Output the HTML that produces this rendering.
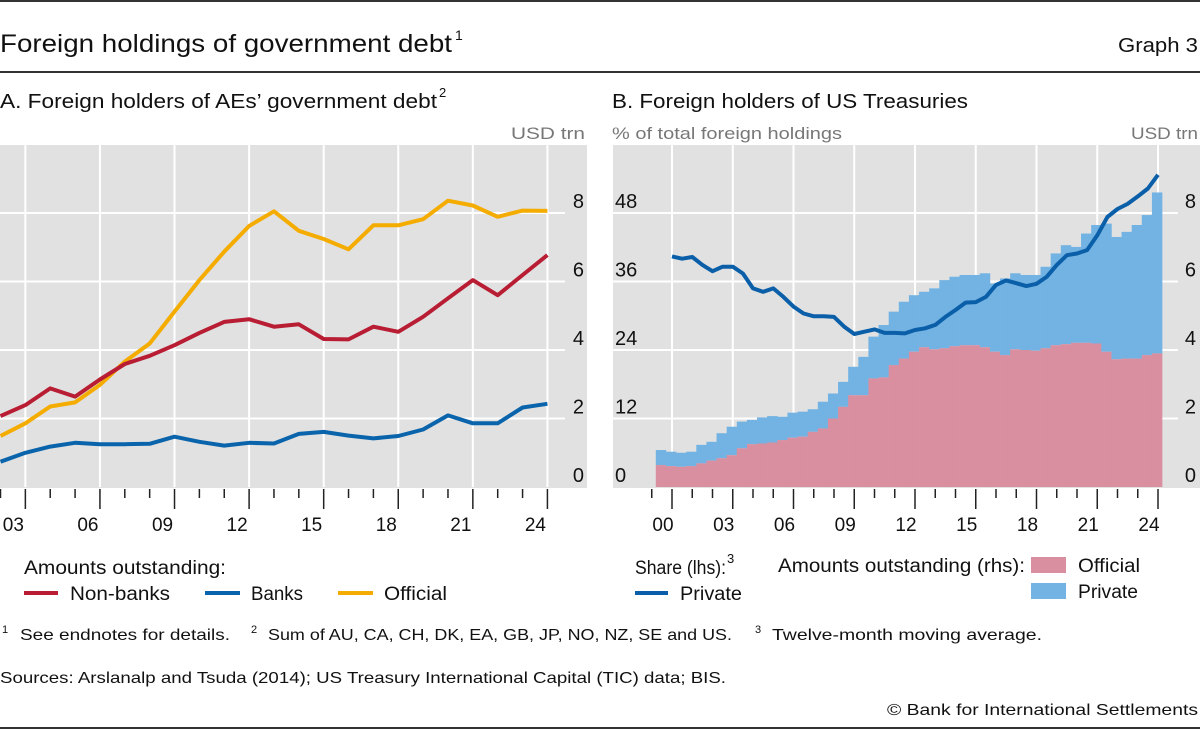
<!DOCTYPE html>
<html><head><meta charset="utf-8"><style>
html,body{margin:0;padding:0;background:#fff;}
svg{display:block;font-family:"Liberation Sans",sans-serif;}
</style></head><body>
<svg id="chart" width="1200" height="730" viewBox="0 0 1200 730" xmlns="http://www.w3.org/2000/svg">
<line x1="0" y1="1" x2="1200" y2="1" stroke="#333" stroke-width="2"/>
<text x="0" y="52" font-size="25" fill="#111" textLength="452" lengthAdjust="spacingAndGlyphs">Foreign holdings of government debt</text>
<text x="455" y="40" font-size="14" fill="#111">1</text>
<text x="1198" y="52" font-size="20" fill="#111" text-anchor="end" textLength="80" lengthAdjust="spacingAndGlyphs">Graph 3</text>
<line x1="0" y1="72" x2="1200" y2="72" stroke="#333" stroke-width="2"/>
<text x="0" y="108" font-size="20" fill="#111" textLength="437" lengthAdjust="spacingAndGlyphs">A. Foreign holders of AEs’ government debt</text>
<text x="439" y="97" font-size="13" fill="#111">2</text>
<text x="612" y="108" font-size="20" fill="#111" textLength="356" lengthAdjust="spacingAndGlyphs">B. Foreign holders of US Treasuries</text>
<text x="585" y="139" font-size="17" fill="#777" text-anchor="end" textLength="74" lengthAdjust="spacingAndGlyphs">USD trn</text>
<text x="612" y="139" font-size="17" fill="#777" textLength="230" lengthAdjust="spacingAndGlyphs">% of total foreign holdings</text>
<text x="1198" y="139" font-size="17" fill="#777" text-anchor="end" textLength="67" lengthAdjust="spacingAndGlyphs">USD trn</text>
<rect x="0" y="145" width="587" height="343" fill="#e1e1e1"/>
<rect x="613" y="145" width="587" height="343" fill="#e1e1e1"/>
<g id="ga"></g>
<g id="gb"></g>
<!-- legend A -->
<text x="24" y="574" font-size="19" fill="#111" textLength="202" lengthAdjust="spacingAndGlyphs">Amounts outstanding:</text>
<g>
<line x1="24" y1="593" x2="58" y2="593" stroke="#b81d33" stroke-width="4"/>
<text x="70" y="600" font-size="19" fill="#111" textLength="100" lengthAdjust="spacingAndGlyphs">Non-banks</text></g>
<g>
<line x1="205" y1="593" x2="240" y2="593" stroke="#0a64ac" stroke-width="4"/>
<text x="251" y="600" font-size="19" fill="#111" textLength="52" lengthAdjust="spacingAndGlyphs">Banks</text></g>
<g>
<line x1="338" y1="593" x2="373" y2="593" stroke="#f5ac00" stroke-width="4"/>
<text x="384" y="600" font-size="19" fill="#111" textLength="63" lengthAdjust="spacingAndGlyphs">Official</text></g>
<!-- legend B -->
<text x="635" y="574" font-size="19" fill="#111" textLength="91" lengthAdjust="spacingAndGlyphs">Share (lhs):</text>
<text x="727" y="563" font-size="13" fill="#111">3</text>
<g>
<line x1="635" y1="593" x2="668" y2="593" stroke="#0a5fa8" stroke-width="4"/>
<text x="680" y="600" font-size="19" fill="#111" textLength="62" lengthAdjust="spacingAndGlyphs">Private</text></g>
<text x="778" y="572" font-size="19" fill="#111" textLength="247" lengthAdjust="spacingAndGlyphs">Amounts outstanding (rhs):</text>
<g>
<rect x="1031" y="557" width="35" height="16" fill="#d98fa0"/>
<text x="1078" y="572" font-size="19" fill="#111" textLength="62" lengthAdjust="spacingAndGlyphs">Official</text></g>
<g>
<rect x="1031" y="583" width="35" height="16" fill="#72b3e3"/>
<text x="1078" y="598" font-size="19" fill="#111" textLength="60" lengthAdjust="spacingAndGlyphs">Private</text></g>
<!-- footnotes -->
<g font-size="16" fill="#111">
<text x="2" y="633" font-size="11">1</text>
<text x="20" y="640" textLength="210" lengthAdjust="spacingAndGlyphs">See endnotes for details.</text>
<text x="251" y="633" font-size="11">2</text>
<text x="268" y="640" textLength="464" lengthAdjust="spacingAndGlyphs">Sum of AU, CA, CH, DK, EA, GB, JP, NO, NZ, SE and US.</text>
<text x="755" y="633" font-size="11">3</text>
<text x="772" y="640" textLength="270" lengthAdjust="spacingAndGlyphs">Twelve-month moving average.</text>
</g>
<text x="0" y="683" font-size="16" fill="#111" textLength="726" lengthAdjust="spacingAndGlyphs">Sources: Arslanalp and Tsuda (2014); US Treasury International Capital (TIC) data; BIS.</text>
<text x="1198" y="715" font-size="16" fill="#111" text-anchor="end" textLength="311" lengthAdjust="spacingAndGlyphs">© Bank for International Settlements</text>
<line x1="0" y1="728" x2="1200" y2="728" stroke="#333" stroke-width="2"/>
</svg>
<script>
// Panel A data (annual, 2002-2024), USD trn
const yearsA = [2002,2003,2004,2005,2006,2007,2008,2009,2010,2011,2012,2013,2014,2015,2016,2017,2018,2019,2020,2021,2022,2023,2024];
const nonBanks = [2.07,2.39,2.88,2.64,3.14,3.59,3.83,4.14,4.50,4.82,4.90,4.68,4.75,4.32,4.31,4.68,4.53,4.97,5.51,6.04,5.60,6.19,6.77];
const banks = [0.74,1.00,1.18,1.29,1.25,1.25,1.26,1.47,1.32,1.21,1.29,1.27,1.55,1.61,1.50,1.42,1.49,1.68,2.09,1.86,1.86,2.32,2.43];
const officialA = [1.49,1.86,2.35,2.47,2.98,3.66,4.19,5.12,6.04,6.87,7.62,8.05,7.48,7.24,6.94,7.64,7.64,7.82,8.36,8.22,7.89,8.07,8.06];
const ticksA = [0,2,4,6,8];
const yearLabelsA = ['03','06','09','12','15','18','21','24'];
// Panel B data (half-yearly)
const officialB = [0.64,0.61,0.59,0.61,0.69,0.77,0.84,0.93,1.13,1.25,1.27,1.30,1.37,1.44,1.47,1.61,1.71,2.00,2.34,2.68,2.68,3.17,3.20,3.56,3.75,3.95,4.08,4.02,4.05,4.11,4.14,4.14,4.08,3.95,3.85,4.02,4.00,3.98,4.05,4.14,4.17,4.21,4.21,4.19,3.95,3.73,3.75,3.75,3.85,3.90];
const totalB = [1.08,1.03,1.00,1.03,1.23,1.32,1.57,1.76,1.91,1.96,2.03,2.07,2.05,2.17,2.20,2.27,2.49,2.73,3.07,3.51,3.80,4.39,4.73,5.12,5.41,5.60,5.70,5.80,6.04,6.14,6.19,6.19,6.24,5.94,6.09,6.24,6.19,6.19,6.43,6.82,7.06,7.01,7.40,7.65,7.69,7.30,7.45,7.65,7.94,8.60];
const privateShare = [40.4,40.0,40.3,38.9,37.8,38.6,38.6,37.4,34.8,34.2,34.8,33.3,31.6,30.4,29.9,29.9,29.8,28.1,26.8,27.2,27.6,27.0,27.0,26.9,27.5,27.8,28.4,29.8,31.0,32.3,32.4,33.3,35.4,36.2,35.7,35.2,35.6,36.8,38.9,40.6,40.9,41.5,44.1,47.3,48.7,49.6,50.9,52.3,54.7];
const ticksLhs = [0,12,24,36,48];
const ticksRhs = [0,2,4,6,8];
const yearLabelsB = ['00','03','06','09','12','15','18','21','24'];

const NS='http://www.w3.org/2000/svg';
function mk(tag, attrs, parent){const e=document.createElementNS(NS,tag);for(const k in attrs)e.setAttribute(k,attrs[k]);parent.appendChild(e);return e;}
const ga=document.getElementById('ga'), gb=document.getElementById('gb');
const BOT=487;
// Panel A axes
const xA = yr => 0.5 + (yr-2002)*24.86;
const yA = v => BOT - v*34.25;
ticksA.forEach(v=>{ if(v>0){const l=mk('line',{x1:0,x2:565,y1:yA(v),y2:yA(v),stroke:'#fff','stroke-width':2},ga);

}
const t=mk('text',{x:584,y:yA(v)-5,'font-size':20,fill:'#111','text-anchor':'end'},ga);t.textContent=String(v);

});
for(let yr=2002; yr<=2024; yr++){
  const major=(yr-2003)%3===0;
  if(major){const g=mk('line',{x1:xA(yr),x2:xA(yr),y1:145,y2:BOT,stroke:'#fff','stroke-width':2},ga);
  
  }
  const tk=mk('line',{x1:xA(yr),x2:xA(yr),y1:489,y2:major?509:498,stroke:'#222','stroke-width':1.5},ga);
  
  
}
yearLabelsA.forEach((lab,i)=>{const yr=2003+i*3;const t=mk('text',{x:xA(yr)-12,y:531,'font-size':19,fill:'#111','text-anchor':'middle'},ga);t.textContent=lab;

});
function lineA(vals,color,name){const d=vals.map((v,i)=>(i?'L':'M')+xA(yearsA[i]).toFixed(1)+','+yA(v).toFixed(1)).join('');
const p=mk('path',{d:d,fill:'none',stroke:color,'stroke-width':4,'stroke-linejoin':'round'},ga);

}
lineA(officialA,'#f5ac00','official-line');
lineA(nonBanks,'#b81d33','non-banks-line');
lineA(banks,'#0a64ac','banks-line');
// Panel B axes
const xB = t => 672 + (t-2000)*20.25;
const yR = v => BOT - v*34.25;
const yL = v => BOT - v*(274/48);
ticksLhs.forEach((v,i)=>{ if(v>0){const l=mk('line',{x1:613,x2:1178,y1:yL(v),y2:yL(v),stroke:'#fff','stroke-width':2},gb);

}
const t=mk('text',{x:615,y:yL(v)-5,'font-size':20,fill:'#111'},gb);t.textContent=String(v);


const r=mk('text',{x:1196,y:yR(ticksRhs[i])-5,'font-size':20,fill:'#111','text-anchor':'end'},gb);r.textContent=String(ticksRhs[i]);

});
for(let yr=1999; yr<=2024; yr++){
  const major=(yr-2000)%3===0;
  if(major){const g=mk('line',{x1:xB(yr),x2:xB(yr),y1:145,y2:BOT,stroke:'#fff','stroke-width':2},gb);
  
  }
  const tk=mk('line',{x1:xB(yr),x2:xB(yr),y1:489,y2:major?509:498,stroke:'#222','stroke-width':1.5},gb);
  
  
}
yearLabelsB.forEach((lab,i)=>{const yr=2000+i*3;const t=mk('text',{x:xB(yr)-9,y:531,'font-size':19,fill:'#111','text-anchor':'middle'},gb);t.textContent=lab;

});
// bars
totalB.forEach((tot,i)=>{
  const t0=1999.2+i*0.5, x0=xB(t0), w=xB(t0+0.5)-x0+0.3;
  const pb=mk('rect',{x:x0,y:yR(tot),width:w,height:yR(officialB[i])-yR(tot),fill:'#72b3e3'},gb);
  
  
  const ob=mk('rect',{x:x0,y:yR(officialB[i]),width:w,height:BOT-yR(officialB[i]),fill:'#d98fa0'},gb);
  
  
});
// re-draw vertical gridlines faintly over bars? (reference bars cover gridlines) - no
const dB=privateShare.map((v,i)=>(i?'L':'M')+xB(2000+i*0.5).toFixed(1)+','+yL(v).toFixed(1)).join('');
const sl=mk('path',{d:dB,fill:'none',stroke:'#0a5fa8','stroke-width':4,'stroke-linejoin':'round'},gb);


</script>
</body></html>
